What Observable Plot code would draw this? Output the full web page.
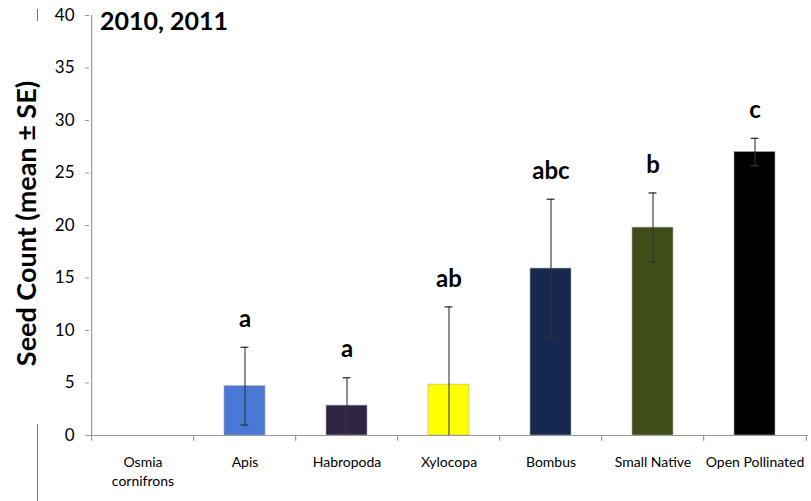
<!DOCTYPE html>
<html><head><meta charset="utf-8">
<script src="https://cdn.jsdelivr.net/npm/d3@7"></script>
<script src="https://cdn.jsdelivr.net/npm/@observablehq/plot@0.6"></script>
<style>
body{margin:0;background:#fff;font-family:Lato,"Open Sans",sans-serif;}
#wrap{position:relative;width:811px;height:501px;}
#title{position:absolute;left:100px;top:5px;font:bold 25px Lato,"Open Sans",sans-serif;color:#000;}
.stub{position:absolute;left:37px;width:1px;background:#777;}
</style></head>
<body><div id="wrap"><div id="title">2010, 2011</div><div class="stub" style="top:9px;height:12px"></div><div class="stub" style="top:424px;height:77px"></div></div>
<script>
const categories = ["Osmia\ncornifrons","Apis","Habropoda","Xylocopa","Bombus","Small Native","Open Pollinated"];
const means = [0, 4.7, 2.85, 4.85, 15.9, 19.8, 27.0];
const ses = [0, 3.7, 2.65, 7.4, 6.6, 3.3, 1.3];
const letters = ["", "a", "a", "ab", "abc", "b", "c"];
const colors = ["#cccccc","#4a79d5","#302545","#ffff00","#17284f","#3f4e19","#000000"];
const yTicks = [0,5,10,15,20,25,30,35,40];

const data = categories.map((c,i)=>({cat:c, mean:means[i], se:ses[i], letter:letters[i], color:colors[i],
  lo:Math.max(0, means[i]-ses[i]), hi:means[i]+ses[i]}));

const W=811, H=501, ml=89, mr=3, mt=15, mb=66;
const step=(W-ml-mr)/categories.length;
const bw=step*0.4;
const capInset=(bw-8)/2;

const chart = Plot.plot({
  width:W, height:H, marginLeft:ml, marginRight:mr, marginTop:mt, marginBottom:mb,
  style:{fontFamily:"Lato, 'Open Sans', sans-serif", background:"transparent"},
  x:{domain:categories, paddingInner:0.6, paddingOuter:0.3, align:0.5, label:null},
  y:{domain:[0,40], label:null},
  marks:[
    Plot.barY(data.filter(d=>d.mean>0), {x:"cat", y:"mean", fill:"color", stroke:"#aaa", strokeWidth:0.6}),
    Plot.ruleY([0], {stroke:"#999", strokeWidth:1.2}),
    Plot.ruleX([categories[0]], {dx:-step/2, y1:0, y2:40, stroke:"#999", strokeWidth:1.2}),
    Plot.ruleX(categories, {x:d=>d, dx:-step/2, y1:0, y2:-0.55, stroke:"#999", strokeWidth:1.2}),
    Plot.ruleX([categories[categories.length-1]], {dx:step/2, y1:0, y2:-0.55, stroke:"#999", strokeWidth:1.2}),
    Plot.ruleX(data.filter(d=>d.se>0), {x:"cat", y1:"lo", y2:"hi", stroke:"#333", strokeWidth:1.1}),
    Plot.tickY(data.filter(d=>d.se>0), {x:"cat", y:"hi", stroke:"#333", strokeWidth:1.3, insetLeft:capInset, insetRight:capInset}),
    Plot.tickY(data.filter(d=>d.se>0 && d.mean-d.se>0), {x:"cat", y:"lo", stroke:"#333", strokeWidth:1.3, insetLeft:capInset, insetRight:capInset}),
    Plot.text(data, {x:"cat", y:"hi", text:"letter", dy:-28, fontSize:24, fontWeight:"bold", fill:"#000"}),
    Plot.axisY({ticks:yTicks, tickSize:4, tickPadding:11, fontSize:17, stroke:"#999", color:"#000", label:null}),
    Plot.axisX({tickSize:0, tickPadding:19, fontSize:14, lineHeight:1.3, color:"#000", label:null}),
    Plot.text(["Seed Count (mean ± SE)"], {frameAnchor:"left", textAnchor:"middle", dx:-62, dy:-2, rotate:-90, fontSize:27, fontWeight:"bold", fill:"#000"})
  ]
});
document.getElementById("wrap").prepend(chart);
chart.style.position="absolute"; chart.style.left="0"; chart.style.top="0";
</script></body></html>
